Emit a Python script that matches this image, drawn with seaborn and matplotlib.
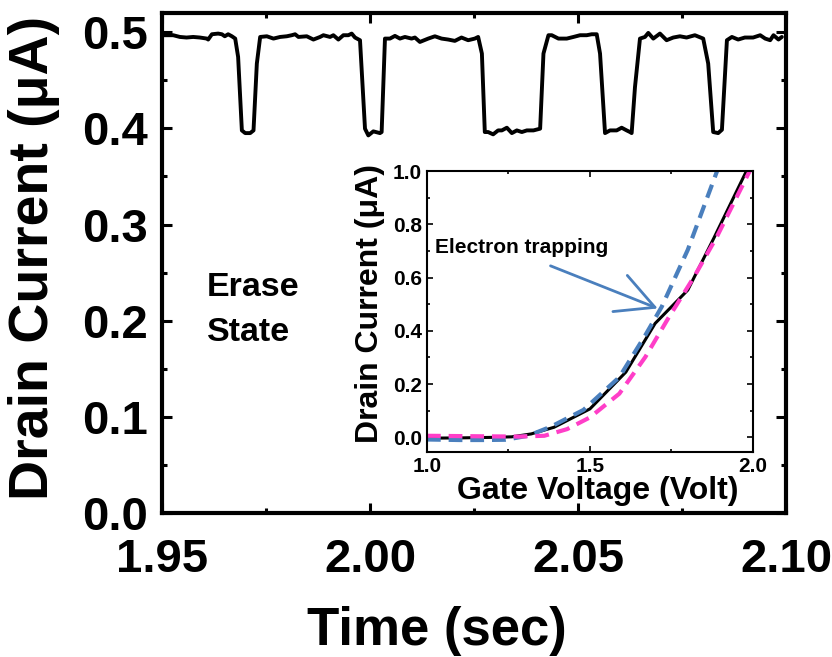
import matplotlib
matplotlib.use("Agg")
import matplotlib.pyplot as plt
import seaborn as sns
from matplotlib.ticker import MultipleLocator, FormatStrFormatter

# Random telegraph signal: drain current vs time (erase state)
time_s = [
    1.9500, 1.9527, 1.9543, 1.9559, 1.9575, 1.9591, 1.9608, 1.9611, 1.9620, 1.9635,
    1.9644, 1.9651, 1.9659, 1.9668, 1.9676, 1.9683, 1.9692, 1.9700, 1.9712, 1.9720,
    1.9728, 1.9736, 1.9752, 1.9768, 1.9784, 1.9800, 1.9812, 1.9820, 1.9828, 1.9848,
    1.9864, 1.9880, 1.9888, 1.9904, 1.9912, 1.9924, 1.9936, 1.9948, 1.9956, 1.9964,
    1.9976, 1.9988, 1.9996, 2.0008, 2.0024, 2.0028, 2.0036, 2.0048, 2.0060, 2.0072,
    2.0084, 2.0100, 2.0108, 2.0120, 2.0140, 2.0156, 2.0172, 2.0188, 2.0204, 2.0220,
    2.0236, 2.0252, 2.0260, 2.0269, 2.0276, 2.0284, 2.0296, 2.0308, 2.0317, 2.0329,
    2.0341, 2.0353, 2.0365, 2.0377, 2.0393, 2.0409, 2.0417, 2.0429, 2.0437, 2.0453,
    2.0473, 2.0489, 2.0505, 2.0521, 2.0533, 2.0545, 2.0553, 2.0565, 2.0577, 2.0593,
    2.0605, 2.0617, 2.0625, 2.0629, 2.0637, 2.0649, 2.0661, 2.0669, 2.0681, 2.0697,
    2.0713, 2.0729, 2.0745, 2.0761, 2.0781, 2.0801, 2.0813, 2.0825, 2.0837, 2.0846,
    2.0858, 2.0870, 2.0885, 2.0901, 2.0921, 2.0938, 2.0950, 2.0962, 2.0970, 2.0982,
    2.0990,
]
drain_uA = [
    0.4969, 0.4969, 0.4951, 0.4945, 0.4951, 0.4945, 0.4934, 0.4924, 0.4979, 0.4986,
    0.4979, 0.4958, 0.4979, 0.4958, 0.4934, 0.4743, 0.3979, 0.3951, 0.3951, 0.3979,
    0.4674, 0.4951, 0.4958, 0.4934, 0.4951, 0.4958, 0.4969, 0.4979, 0.4951, 0.4958,
    0.4924, 0.4951, 0.4969, 0.4951, 0.4969, 0.4924, 0.4969, 0.4969, 0.4986, 0.4945,
    0.4917, 0.3997, 0.3927, 0.3969, 0.3951, 0.3962, 0.4934, 0.4934, 0.4962, 0.4934,
    0.4951, 0.4934, 0.4945, 0.4899, 0.4934, 0.4958, 0.4934, 0.4924, 0.4910, 0.4945,
    0.4917, 0.4934, 0.4951, 0.4778, 0.3962, 0.3962, 0.3938, 0.3979, 0.3979, 0.4007,
    0.3951, 0.3979, 0.3962, 0.3979, 0.3979, 0.3997, 0.4778, 0.4969, 0.4969, 0.4934,
    0.4934, 0.4951, 0.4969, 0.4969, 0.4979, 0.4979, 0.4778, 0.3951, 0.3979, 0.3979,
    0.4007, 0.3979, 0.3962, 0.3951, 0.4430, 0.4934, 0.4951, 0.4993, 0.4934, 0.4986,
    0.4917, 0.4945, 0.4958, 0.4945, 0.4969, 0.4934, 0.4674, 0.3962, 0.3951, 0.3986,
    0.4917, 0.4951, 0.4924, 0.4945, 0.4945, 0.4969, 0.4934, 0.4917, 0.4969, 0.4924,
    0.4951,
]

# Transfer curves (inset)
vg_initial = [1.00, 1.10, 1.20, 1.26, 1.32, 1.39, 1.50, 1.61, 1.70, 1.80, 1.88, 1.98]
id_initial = [-0.003, -0.002, 0.000, 0.002, 0.013, 0.038, 0.107, 0.245, 0.428, 0.553, 0.748, 1.000]

vg_trapped = [1.00, 1.10, 1.17, 1.24, 1.31, 1.38, 1.48, 1.59, 1.67, 1.72, 1.80, 1.89]
id_trapped = [-0.008, -0.010, -0.010, -0.009, 0.006, 0.040, 0.103, 0.226, 0.384, 0.490, 0.704, 1.000]

vg_detrapped = [1.00, 1.17, 1.28, 1.36, 1.43, 1.50, 1.59, 1.67, 1.74, 1.82, 1.89, 1.99]
id_detrapped = [0.006, 0.004, 0.003, 0.006, 0.031, 0.075, 0.164, 0.302, 0.447, 0.604, 0.755, 1.000]

sns.set_theme(style="ticks")
plt.rcParams["font.family"] = ["Liberation Sans", "DejaVu Sans"]
plt.rcParams["font.weight"] = "bold"
plt.rcParams["axes.labelweight"] = "bold"
plt.rcParams["text.color"] = "black"
plt.rcParams["axes.labelcolor"] = "black"

fig = plt.figure(figsize=(8.32, 6.57), dpi=100)

# ---- main panel ----
ax = fig.add_axes([0.1947, 0.2192, 0.750, 0.761])
sns.lineplot(x=time_s, y=drain_uA, ax=ax, color="black", linewidth=2.8,
             estimator=None, sort=False)
ax.set_xlim(1.95, 2.10)
ax.set_ylim(0.0, 0.52)
ax.xaxis.set_major_locator(MultipleLocator(0.05))
ax.xaxis.set_minor_locator(MultipleLocator(0.025))
ax.yaxis.set_major_locator(MultipleLocator(0.1))
ax.yaxis.set_minor_locator(MultipleLocator(0.05))
ax.xaxis.set_major_formatter(FormatStrFormatter("%.2f"))
ax.yaxis.set_major_formatter(FormatStrFormatter("%.1f"))
for s in ax.spines.values():
    s.set_linewidth(3.0)
    s.set_color("black")
ax.tick_params(which="both", direction="in", top=True, right=True,
               width=2.2, colors="black")
ax.tick_params(which="major", length=7, labelsize=34)
ax.tick_params(axis="y", which="major", pad=10)
ax.tick_params(axis="x", which="major", pad=18)
ax.tick_params(which="minor", length=3.5)
for lab in ax.get_xticklabels() + ax.get_yticklabels():
    lab.set_fontweight("bold")
ax.set_xlabel("Time (sec)", fontsize=38, fontweight="bold")
ax.set_ylabel("Drain Current (\u03bcA)", fontsize=40, fontweight="bold")
ax.xaxis.set_label_coords(0.441, -0.186)
ax.yaxis.set_label_coords(-0.164, 0.51)

ax.text(1.9608, 0.226, "Erase", fontsize=24.5, fontweight="bold", va="baseline")
ax.text(1.9608, 0.179, "State", fontsize=24.5, fontweight="bold", va="baseline")

# ---- inset: transfer curves ----
axi = fig.add_axes([0.5132, 0.312, 0.3918, 0.4277])
axi.set_facecolor("white")
sns.lineplot(x=vg_initial, y=id_initial, ax=axi, color="black", linewidth=2.2,
             estimator=None, sort=False)
sns.lineplot(x=vg_trapped, y=id_trapped, ax=axi, color="#4a7fbd", linewidth=3.0,
             linestyle=(0, (3.3, 1.9)), estimator=None, sort=False)
sns.lineplot(x=vg_detrapped, y=id_detrapped, ax=axi, color="#ff3ec8", linewidth=3.0,
             linestyle=(0, (3.3, 1.9)), estimator=None, sort=False)
axi.set_xlim(1.0, 2.0)
axi.set_ylim(-0.055, 1.0)
axi.xaxis.set_major_locator(MultipleLocator(0.5))
axi.xaxis.set_minor_locator(MultipleLocator(0.25))
axi.yaxis.set_major_locator(MultipleLocator(0.2))
axi.yaxis.set_minor_locator(MultipleLocator(0.1))
axi.xaxis.set_major_formatter(FormatStrFormatter("%.1f"))
axi.yaxis.set_major_formatter(FormatStrFormatter("%.1f"))
for s in axi.spines.values():
    s.set_linewidth(1.5)
    s.set_color("black")
axi.tick_params(which="both", direction="in", top=True, right=True,
                width=1.2, colors="black")
axi.tick_params(which="major", length=4, labelsize=15, pad=3.5)
axi.tick_params(which="minor", length=2)
for lab in axi.get_xticklabels() + axi.get_yticklabels():
    lab.set_fontweight("bold")
axi.set_xlabel("Gate Voltage (Volt)", fontsize=23, fontweight="bold")
axi.set_ylabel("Drain Current (\u03bcA)", fontsize=23, fontweight="bold")
axi.xaxis.set_label_coords(0.525, -0.085)
axi.yaxis.set_label_coords(-0.129, 0.53)

axi.annotate("", xy=(1.708, 0.484), xytext=(1.379, 0.644),
             arrowprops=dict(arrowstyle="->,head_length=2.7,head_width=1.4",
                             color="#4a7fbd", lw=2.0, mutation_scale=10,
                             shrinkA=0, shrinkB=0))
axi.text(1.026, 0.711, "Electron trapping", fontsize=15, fontweight="bold",
         va="center", ha="left")

fig.savefig("out.png", dpi=100)
